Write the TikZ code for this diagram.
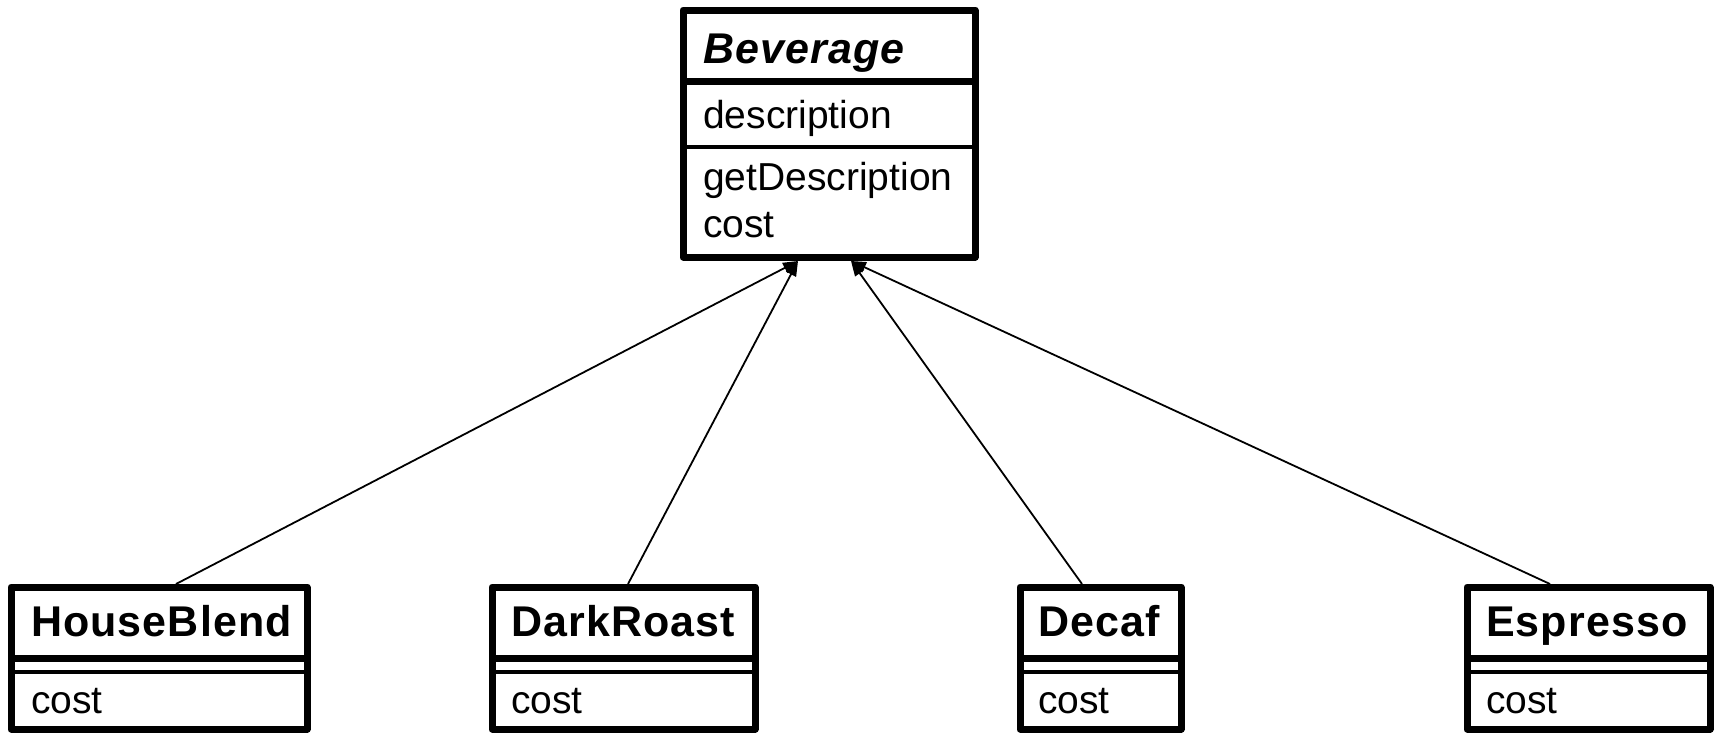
\documentclass[tikz,border=0pt]{standalone}
\usepackage{fontspec}
\setmainfont{Liberation Sans}
\newfontfamily\titlefont[LetterSpace=2.5]{Liberation Sans}
\usetikzlibrary{arrows.meta}
\begin{document}
\begin{tikzpicture}[x=1pt,y=-1pt,
  umlbox/.style={draw, line width=7pt, line join=round, inner sep=0pt, outer sep=0pt, anchor=north west},
  thicksep/.style={line width=7pt},
  thinsep/.style={line width=3.5pt},
  lbl/.style={anchor=base west, inner sep=0pt, font=\fontsize{39}{44}\selectfont},
  title/.style={anchor=base west, inner sep=0pt, font=\fontsize{43}{48}\selectfont\titlefont\bfseries},
  conn/.style={line width=1.8pt, -{Triangle[length=15pt,width=11pt]}}]
\useasboundingbox (0,0) rectangle (1716,734);
% Beverage
\node[umlbox, minimum width=292pt, minimum height=247pt] (bev) at (683,10) {};
\draw[thicksep] (683,81) -- (975,81);
\draw[thinsep] (683,147) -- (975,147);
\node[title, font=\fontsize{43}{48}\selectfont\titlefont\bfseries\itshape] (bevname) at (703,63) {Beverage};
\node[lbl] (bevattr) at (703,128) {description};
\node[lbl] (bevm1) at (703,190) {getDescription};
\node[lbl] (bevm2) at (703,237) {cost};
% HouseBlend
\node[umlbox, minimum width=296pt, minimum height=142pt] (hb) at (11,587) {};
\draw[thicksep] (11,658) -- (307,658);
\draw[thinsep] (11,672) -- (307,672);
\node[title] (hbname) at (31,636) {HouseBlend};
\node[lbl] (hbm) at (31,713) {cost};
% DarkRoast
\node[umlbox, minimum width=263pt, minimum height=142pt] (dr) at (492,587) {};
\draw[thicksep] (492,658) -- (755,658);
\draw[thinsep] (492,672) -- (755,672);
\node[title] (drname) at (511,636) {DarkRoast};
\node[lbl] (drm) at (511,713) {cost};
% Decaf
\node[umlbox, minimum width=161pt, minimum height=142pt] (dc) at (1020,587) {};
\draw[thicksep] (1020,658) -- (1181,658);
\draw[thinsep] (1020,672) -- (1181,672);
\node[title] (dcname) at (1038,636) {Decaf};
\node[lbl] (dcm) at (1038,713) {cost};
% Espresso
\node[umlbox, minimum width=243pt, minimum height=142pt] (es) at (1467,587) {};
\draw[thicksep] (1467,658) -- (1710,658);
\draw[thinsep] (1467,672) -- (1710,672);
\node[title] (esname) at (1486,636) {Espresso};
\node[lbl] (esm) at (1486,713) {cost};
% connectors
\coordinate (tipL) at (798,261);
\coordinate (tipR) at (851,261);
\coordinate (hbs) at (176,584);
\coordinate (drs) at (628,584);
\coordinate (dcs) at (1082,584);
\coordinate (ess) at (1550,584);
\draw[conn] (hbs) -- (tipL);
\draw[conn] (drs) -- (tipL);
\draw[conn] (dcs) -- (tipR);
\draw[conn] (ess) -- (tipR);
\end{tikzpicture}
\end{document}
